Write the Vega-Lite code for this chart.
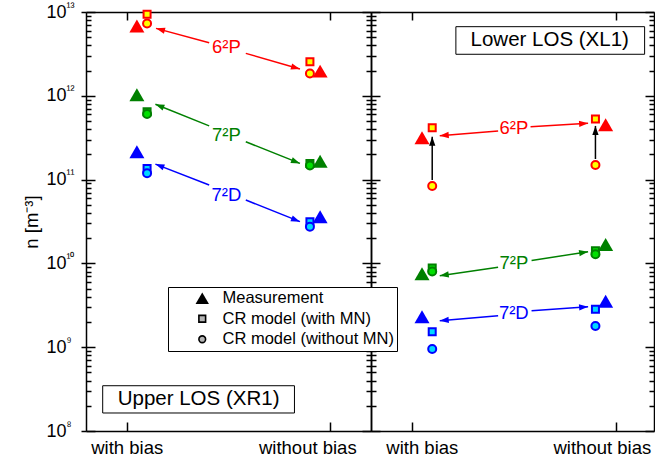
{
  "$schema": "https://vega.github.io/schema/vega-lite/v6.json",
  "background": "white",
  "padding": {"left": 22, "top": 0, "right": 0, "bottom": 0},
  "spacing": 0,
  "bounds": "flush",
  "config": {
    "font": "Liberation Sans",
    "view": {"stroke": null},
    "axis": {
      "grid": false,
      "domainColor": "black",
      "domainWidth": 1.5,
      "tickColor": "black",
      "tickWidth": 1.5,
      "labelColor": "black",
      "titleColor": "black",
      "labelFont": "Liberation Sans",
      "titleFont": "Liberation Sans",
      "titleFontWeight": "normal"
    }
  },
  "datasets": {
    "points": [
      {"los": "Upper", "species": "6²P", "type": "Measurement", "x": 0.05, "n": 6.8e12},
      {"los": "Upper", "species": "6²P", "type": "CR model (with MN)", "x": 0.1, "n": 9.4e12},
      {"los": "Upper", "species": "6²P", "type": "CR model (without MN)", "x": 0.1, "n": 7.3e12},
      {"los": "Upper", "species": "6²P", "type": "Measurement", "x": 0.95, "n": 1.97e12},
      {"los": "Upper", "species": "6²P", "type": "CR model (with MN)", "x": 0.9, "n": 2.55e12},
      {"los": "Upper", "species": "6²P", "type": "CR model (without MN)", "x": 0.9, "n": 1.85e12},
      {"los": "Upper", "species": "7²P", "type": "Measurement", "x": 0.05, "n": 1.03e12},
      {"los": "Upper", "species": "7²P", "type": "CR model (with MN)", "x": 0.1, "n": 6.45e11},
      {"los": "Upper", "species": "7²P", "type": "CR model (without MN)", "x": 0.1, "n": 6.07e11},
      {"los": "Upper", "species": "7²P", "type": "Measurement", "x": 0.95, "n": 1.66e11},
      {"los": "Upper", "species": "7²P", "type": "CR model (with MN)", "x": 0.9, "n": 1.56e11},
      {"los": "Upper", "species": "7²P", "type": "CR model (without MN)", "x": 0.9, "n": 1.47e11},
      {"los": "Upper", "species": "7²D", "type": "Measurement", "x": 0.05, "n": 2.15e11},
      {"los": "Upper", "species": "7²D", "type": "CR model (with MN)", "x": 0.1, "n": 1.36e11},
      {"los": "Upper", "species": "7²D", "type": "CR model (without MN)", "x": 0.1, "n": 1.19e11},
      {"los": "Upper", "species": "7²D", "type": "Measurement", "x": 0.95, "n": 3.6e10},
      {"los": "Upper", "species": "7²D", "type": "CR model (with MN)", "x": 0.9, "n": 3.15e10},
      {"los": "Upper", "species": "7²D", "type": "CR model (without MN)", "x": 0.9, "n": 2.74e10},
      {"los": "Lower", "species": "6²P", "type": "Measurement", "x": 0.05, "n": 3.16e11},
      {"los": "Lower", "species": "6²P", "type": "CR model (with MN)", "x": 0.1, "n": 4.16e11},
      {"los": "Lower", "species": "6²P", "type": "CR model (without MN)", "x": 0.1, "n": 8.4e10},
      {"los": "Lower", "species": "6²P", "type": "Measurement", "x": 0.95, "n": 4.5e11},
      {"los": "Lower", "species": "6²P", "type": "CR model (with MN)", "x": 0.9, "n": 5.28e11},
      {"los": "Lower", "species": "6²P", "type": "CR model (without MN)", "x": 0.9, "n": 1.49e11},
      {"los": "Lower", "species": "7²P", "type": "Measurement", "x": 0.05, "n": 7.5e9},
      {"los": "Lower", "species": "7²P", "type": "CR model (with MN)", "x": 0.1, "n": 8.8e9},
      {"los": "Lower", "species": "7²P", "type": "CR model (without MN)", "x": 0.1, "n": 8.0e9},
      {"los": "Lower", "species": "7²P", "type": "Measurement", "x": 0.95, "n": 1.68e10},
      {"los": "Lower", "species": "7²P", "type": "CR model (with MN)", "x": 0.9, "n": 1.42e10},
      {"los": "Lower", "species": "7²P", "type": "CR model (without MN)", "x": 0.9, "n": 1.29e10},
      {"los": "Lower", "species": "7²D", "type": "Measurement", "x": 0.05, "n": 2.31e9},
      {"los": "Lower", "species": "7²D", "type": "CR model (with MN)", "x": 0.1, "n": 1.53e9},
      {"los": "Lower", "species": "7²D", "type": "CR model (without MN)", "x": 0.1, "n": 9.5e8},
      {"los": "Lower", "species": "7²D", "type": "Measurement", "x": 0.95, "n": 3.54e9},
      {"los": "Lower", "species": "7²D", "type": "CR model (with MN)", "x": 0.9, "n": 2.83e9},
      {"los": "Lower", "species": "7²D", "type": "CR model (without MN)", "x": 0.9, "n": 1.79e9}
    ],
    "arrows": [
      {"los": "Upper", "species": "6²P", "x": 0.405, "n": 4.3e12, "x2": 0.144, "n2": 6.38e12},
      {"los": "Upper", "species": "6²P", "x": 0.585, "n": 3.21e12, "x2": 0.851, "n2": 2.09e12},
      {"los": "Upper", "species": "7²P", "x": 0.405, "n": 4.37e11, "x2": 0.141, "n2": 7.93e11},
      {"los": "Upper", "species": "7²P", "x": 0.585, "n": 2.83e11, "x2": 0.851, "n2": 1.56e11},
      {"los": "Upper", "species": "7²D", "x": 0.405, "n": 8.63e10, "x2": 0.141, "n2": 1.53e11},
      {"los": "Upper", "species": "7²D", "x": 0.585, "n": 5.71e10, "x2": 0.851, "n2": 3.15e10},
      {"los": "Lower", "species": "6²P", "x": 0.423, "n": 3.8e11, "x2": 0.137, "n2": 3.34e11},
      {"los": "Lower", "species": "6²P", "x": 0.582, "n": 4.28e11, "x2": 0.864, "n2": 4.7e11},
      {"los": "Lower", "species": "7²P", "x": 0.423, "n": 8.97e9, "x2": 0.137, "n2": 7.13e9},
      {"los": "Lower", "species": "7²P", "x": 0.587, "n": 1.08e10, "x2": 0.864, "n2": 1.38e10},
      {"los": "Lower", "species": "7²D", "x": 0.423, "n": 2.38e9, "x2": 0.137, "n2": 2.07e9},
      {"los": "Lower", "species": "7²D", "x": 0.587, "n": 2.73e9, "x2": 0.864, "n2": 3.04e9}
    ],
    "shifts": [
      {"los": "Lower", "x": 0.1, "n": 9.9e10, "n2": 3.25e11},
      {"los": "Lower", "x": 0.9, "n": 1.76e11, "n2": 4.37e11}
    ],
    "tags": [
      {"los": "Upper", "species": "6²P", "x": 0.49, "n": 3.82e12},
      {"los": "Upper", "species": "7²P", "x": 0.49, "n": 3.4e11},
      {"los": "Upper", "species": "7²D", "x": 0.49, "n": 6.55e10},
      {"los": "Lower", "species": "6²P", "x": 0.5, "n": 4.13e11},
      {"los": "Lower", "species": "7²P", "x": 0.5, "n": 1.0e10},
      {"los": "Lower", "species": "7²D", "x": 0.5, "n": 2.54e9}
    ],
    "boxes": [
      {"los": "Upper", "title": "Upper LOS (XR1)", "x": -0.118, "x2": 0.824, "n": 1.64e8, "n2": 3.47e8, "tx": 0.353, "tn": 2.41e8},
      {"los": "Lower", "title": "Lower LOS (XL1)", "x": 0.216, "x2": 1.141, "n": 3.13e12, "n2": 6.68e12, "tx": 0.676, "tn": 4.57e12}
    ]
  },
  "hconcat": [
    {
      "width": 285,
      "height": 419,
      "resolve": {"axis": {"x": "independent", "y": "independent"}},
      "layer": [
        {
          "data": {"name": "boxes"},
          "transform": [{"filter": "datum.los == 'Upper'"}],
          "mark": {"type": "rect", "fill": "white", "stroke": "black", "strokeWidth": 1},
          "encoding": {
            "x": {"field": "x", "type": "quantitative", "scale": {"domain": [-0.2, 1.2], "nice": false, "zero": false}, "axis": null},
            "x2": {"field": "x2"},
            "y": {"field": "n", "type": "quantitative", "scale": {"type": "log", "domain": [1e8, 1e13], "nice": false}, "axis": null},
            "y2": {"field": "n2"}
          }
        },
        {
          "data": {"name": "boxes"},
          "transform": [{"filter": "datum.los == 'Upper'"}],
          "mark": {"type": "text", "fontSize": 20.5, "color": "black", "baseline": "middle", "align": "center"},
          "encoding": {
            "x": {"field": "tx", "type": "quantitative", "axis": null},
            "y": {"field": "tn", "type": "quantitative", "axis": null},
            "text": {"field": "title"}
          }
        },
        {
          "data": {"name": "arrows"},
          "transform": [{"filter": "datum.los == 'Upper'"}],
          "mark": {"type": "rule", "strokeWidth": 1.5},
          "encoding": {
            "x": {"field": "x", "type": "quantitative", "axis": null},
            "x2": {"field": "x2"},
            "y": {"field": "n", "type": "quantitative", "axis": {"orient": "right", "values": [1e8,2e8,3e8,4e8,5e8,6e8,7e8,8e8,9e8,1e9,2e9,3e9,4e9,5e9,6e9,7e9,8e9,9e9,1e10,2e10,3e10,4e10,5e10,6e10,7e10,8e10,9e10,1e11,2e11,3e11,4e11,5e11,6e11,7e11,8e11,9e11,1e12,2e12,3e12,4e12,5e12,6e12,7e12,8e12,9e12,1e13], "labels": false, "title": null, "tickSize": {"condition": {"test": "abs(log(datum.value)/LN10 - round(log(datum.value)/LN10)) < 1e-6", "value": -9}, "value": -5}}},
            "y2": {"field": "n2"},
            "color": {"field": "species", "type": "nominal", "scale": {"domain": ["6²P", "7²P", "7²D"], "range": ["#ff0000", "#008000", "#0000ff"]}, "legend": null}
          }
        },
        {
          "data": {"name": "arrows"},
          "transform": [{"filter": "datum.los == 'Upper'"}],
          "mark": {"type": "point", "shape": "M0,0L-2,-0.7L-2,0.7Z", "filled": true, "opacity": 1, "size": 81,
                   "angle": {"expr": "atan2(scale('concat_0_y', datum.n2) - scale('concat_0_y', datum.n), scale('concat_0_x', datum.x2) - scale('concat_0_x', datum.x)) * 180 / PI"}},
          "encoding": {
            "x": {"field": "x2", "type": "quantitative", "axis": null},
            "y": {"field": "n2", "type": "quantitative", "axis": null},
            "color": {"field": "species", "type": "nominal", "legend": null}
          }
        },
        {
          "data": {"name": "tags"},
          "transform": [{"filter": "datum.los == 'Upper'"}],
          "mark": {"type": "text", "fontSize": 18.5, "baseline": "middle", "align": "center"},
          "encoding": {
            "x": {"field": "x", "type": "quantitative", "axis": null},
            "y": {"field": "n", "type": "quantitative", "axis": null},
            "text": {"field": "species"},
            "color": {"field": "species", "type": "nominal", "legend": null}
          }
        },
        {
          "data": {"name": "points"},
          "transform": [{"filter": "datum.los == 'Upper' && datum.type == 'Measurement'"}],
          "mark": {"type": "point", "filled": true, "opacity": 1, "size": 225},
          "encoding": {
            "x": {"field": "x", "type": "quantitative", "axis": {"orient": "bottom", "values": [0, 1], "labelExpr": "datum.value == 0 ? 'with bias' : 'without bias'", "tickSize": -9, "labelPadding": 16, "labelFontSize": 18.5, "labelOffset": {"condition": {"test": "datum.value == 1", "value": -23}, "value": 0}, "title": null}},
            "y": {"field": "n", "type": "quantitative", "axis": {"orient": "left", "values": [1e8, 1e9, 1e10, 1e11, 1e12, 1e13], "labelExpr": "'10'", "tickSize": 5, "labelPadding": 15, "labelFontSize": 18, "title": "n [m⁻³]", "titleFontSize": 18.5, "titlePadding": 4}},
            "shape": {"field": "type", "type": "nominal",
                      "scale": {"domain": ["Measurement", "CR model (with MN)", "CR model (without MN)"], "range": ["triangle-up", "square", "circle"]},
                      "legend": {
                        "title": null, "orient": "none", "legendX": 82, "legendY": 275,
                        "strokeColor": "black", "fillColor": "white", "padding": 3,
                        "labelFontSize": 16.5, "labelFont": "Liberation Sans", "labelColor": "black", "labelLimit": 400,
                        "rowPadding": 3.5, "symbolOffset": 23, "labelOffset": 12,
                        "labelExpr": "datum.label + '    '",
                        "encoding": {"symbols": {
                          "fill": {"value": {"expr": "datum.value === 'Measurement' ? 'black' : '#b4b4b4'"}},
                          "stroke": {"value": "black"},
                          "strokeWidth": {"value": {"expr": "datum.value === 'Measurement' ? 0 : 1.6"}},
                          "size": {"value": {"expr": "datum.value === 'Measurement' ? 180 : 45"}},
                          "opacity": {"value": 1}
                        }}
                      }},
            "color": {"field": "species", "type": "nominal", "legend": null}
          }
        },
        {
          "data": {"name": "points"},
          "transform": [{"filter": "datum.los == 'Upper' && datum.type == 'CR model (with MN)'"}],
          "mark": {"type": "point", "opacity": 1, "size": 49, "strokeWidth": 2},
          "encoding": {
            "x": {"field": "x", "type": "quantitative", "axis": {"orient": "top", "values": [0, 1], "labels": false, "tickSize": -8, "title": null}},
            "y": {"field": "n", "type": "quantitative", "axis": {"orient": "left", "values": [1e8, 1e9, 1e10, 1e11, 1e12, 1e13], "labelExpr": "['⁸','⁹','¹⁰','¹¹','¹²','¹³'][round(log(datum.value)/LN10) - 8]", "ticks": false, "domain": false, "labelAlign": "left", "labelPadding": 20, "labelOffset": -6, "labelFontSize": 12, "title": null}},
            "shape": {"field": "type", "type": "nominal", "legend": null},
            "fill": {"field": "species", "type": "nominal", "scale": {"domain": ["6²P", "7²P", "7²D"], "range": ["#ffff00", "#00e000", "#00d8ff"]}, "legend": null},
            "stroke": {"field": "species", "type": "nominal", "scale": {"domain": ["6²P", "7²P", "7²D"], "range": ["#ff0000", "#008000", "#0000ff"]}, "legend": null}
          }
        },
        {
          "data": {"name": "points"},
          "transform": [{"filter": "datum.los == 'Upper' && datum.type == 'CR model (without MN)'"}],
          "mark": {"type": "point", "opacity": 1, "size": 64, "strokeWidth": 2},
          "encoding": {
            "x": {"field": "x", "type": "quantitative", "axis": null},
            "y": {"field": "n", "type": "quantitative", "axis": {"orient": "left", "values": [1e8,2e8,3e8,4e8,5e8,6e8,7e8,8e8,9e8,1e9,2e9,3e9,4e9,5e9,6e9,7e9,8e9,9e9,1e10,2e10,3e10,4e10,5e10,6e10,7e10,8e10,9e10,1e11,2e11,3e11,4e11,5e11,6e11,7e11,8e11,9e11,1e12,2e12,3e12,4e12,5e12,6e12,7e12,8e12,9e12,1e13], "labels": false, "domain": false, "title": null, "tickSize": {"condition": {"test": "abs(log(datum.value)/LN10 - round(log(datum.value)/LN10)) < 1e-6", "value": -9}, "value": -5}}},
            "shape": {"field": "type", "type": "nominal", "legend": null},
            "fill": {"field": "species", "type": "nominal", "legend": null},
            "stroke": {"field": "species", "type": "nominal", "legend": null}
          }
        }
      ]
    },
    {
      "width": 283,
      "height": 419,
      "resolve": {"axis": {"x": "independent", "y": "independent"}},
      "layer": [
        {
          "data": {"name": "boxes"},
          "transform": [{"filter": "datum.los == 'Lower'"}],
          "mark": {"type": "rect", "fill": "white", "stroke": "black", "strokeWidth": 1},
          "encoding": {
            "x": {"field": "x", "type": "quantitative", "scale": {"domain": [-0.2, 1.187], "nice": false, "zero": false}, "axis": null},
            "x2": {"field": "x2"},
            "y": {"field": "n", "type": "quantitative", "scale": {"type": "log", "domain": [1e8, 1e13], "nice": false}, "axis": null},
            "y2": {"field": "n2"}
          }
        },
        {
          "data": {"name": "boxes"},
          "transform": [{"filter": "datum.los == 'Lower'"}],
          "mark": {"type": "text", "fontSize": 20.5, "color": "black", "baseline": "middle", "align": "center"},
          "encoding": {
            "x": {"field": "tx", "type": "quantitative", "axis": null},
            "y": {"field": "tn", "type": "quantitative", "axis": null},
            "text": {"field": "title"}
          }
        },
        {
          "data": {"name": "arrows"},
          "transform": [{"filter": "datum.los == 'Lower'"}],
          "mark": {"type": "rule", "strokeWidth": 1.5},
          "encoding": {
            "x": {"field": "x", "type": "quantitative", "axis": null},
            "x2": {"field": "x2"},
            "y": {"field": "n", "type": "quantitative", "axis": {"orient": "right", "values": [1e8,2e8,3e8,4e8,5e8,6e8,7e8,8e8,9e8,1e9,2e9,3e9,4e9,5e9,6e9,7e9,8e9,9e9,1e10,2e10,3e10,4e10,5e10,6e10,7e10,8e10,9e10,1e11,2e11,3e11,4e11,5e11,6e11,7e11,8e11,9e11,1e12,2e12,3e12,4e12,5e12,6e12,7e12,8e12,9e12,1e13], "labels": false, "title": null, "tickSize": {"condition": {"test": "abs(log(datum.value)/LN10 - round(log(datum.value)/LN10)) < 1e-6", "value": -9}, "value": -5}}},
            "y2": {"field": "n2"},
            "color": {"field": "species", "type": "nominal", "legend": null}
          }
        },
        {
          "data": {"name": "arrows"},
          "transform": [{"filter": "datum.los == 'Lower'"}],
          "mark": {"type": "point", "shape": "M0,0L-2,-0.7L-2,0.7Z", "filled": true, "opacity": 1, "size": 81,
                   "angle": {"expr": "atan2(scale('concat_1_y', datum.n2) - scale('concat_1_y', datum.n), scale('concat_1_x', datum.x2) - scale('concat_1_x', datum.x)) * 180 / PI"}},
          "encoding": {
            "x": {"field": "x2", "type": "quantitative", "axis": null},
            "y": {"field": "n2", "type": "quantitative", "axis": null},
            "color": {"field": "species", "type": "nominal", "legend": null}
          }
        },
        {
          "data": {"name": "shifts"},
          "mark": {"type": "rule", "strokeWidth": 1.5, "color": "black"},
          "encoding": {
            "x": {"field": "x", "type": "quantitative", "axis": null},
            "y": {"field": "n", "type": "quantitative", "axis": null},
            "y2": {"field": "n2"}
          }
        },
        {
          "data": {"name": "shifts"},
          "mark": {"type": "point", "shape": "M0,0L-2,-0.7L-2,0.7Z", "filled": true, "opacity": 1, "size": 81, "color": "black", "angle": 270},
          "encoding": {
            "x": {"field": "x", "type": "quantitative", "axis": null},
            "y": {"field": "n2", "type": "quantitative", "axis": null}
          }
        },
        {
          "data": {"name": "tags"},
          "transform": [{"filter": "datum.los == 'Lower'"}],
          "mark": {"type": "text", "fontSize": 18.5, "baseline": "middle", "align": "center"},
          "encoding": {
            "x": {"field": "x", "type": "quantitative", "axis": null},
            "y": {"field": "n", "type": "quantitative", "axis": null},
            "text": {"field": "species"},
            "color": {"field": "species", "type": "nominal", "legend": null}
          }
        },
        {
          "data": {"name": "points"},
          "transform": [{"filter": "datum.los == 'Lower' && datum.type == 'Measurement'"}],
          "mark": {"type": "point", "filled": true, "opacity": 1, "size": 225},
          "encoding": {
            "x": {"field": "x", "type": "quantitative", "axis": {"orient": "bottom", "values": [0, 1], "labelExpr": "datum.value == 0 ? 'with bias' : 'without bias'", "tickSize": -9, "labelPadding": 16, "labelFontSize": 18.5, "labelOffset": {"condition": {"test": "datum.value == 1", "value": -14}, "value": 10}, "title": null}},
            "y": {"field": "n", "type": "quantitative", "axis": {"orient": "left", "values": [1e8,2e8,3e8,4e8,5e8,6e8,7e8,8e8,9e8,1e9,2e9,3e9,4e9,5e9,6e9,7e9,8e9,9e9,1e10,2e10,3e10,4e10,5e10,6e10,7e10,8e10,9e10,1e11,2e11,3e11,4e11,5e11,6e11,7e11,8e11,9e11,1e12,2e12,3e12,4e12,5e12,6e12,7e12,8e12,9e12,1e13], "labels": false, "title": null, "tickSize": {"condition": {"test": "abs(log(datum.value)/LN10 - round(log(datum.value)/LN10)) < 1e-6", "value": -9}, "value": -5}}},
            "shape": {"field": "type", "type": "nominal", "legend": null},
            "color": {"field": "species", "type": "nominal", "legend": null}
          }
        },
        {
          "data": {"name": "points"},
          "transform": [{"filter": "datum.los == 'Lower' && datum.type == 'CR model (with MN)'"}],
          "mark": {"type": "point", "opacity": 1, "size": 49, "strokeWidth": 2},
          "encoding": {
            "x": {"field": "x", "type": "quantitative", "axis": {"orient": "top", "values": [0, 1], "labels": false, "tickSize": -8, "title": null}},
            "y": {"field": "n", "type": "quantitative", "axis": null},
            "shape": {"field": "type", "type": "nominal", "legend": null},
            "fill": {"field": "species", "type": "nominal", "legend": null},
            "stroke": {"field": "species", "type": "nominal", "legend": null}
          }
        },
        {
          "data": {"name": "points"},
          "transform": [{"filter": "datum.los == 'Lower' && datum.type == 'CR model (without MN)'"}],
          "mark": {"type": "point", "opacity": 1, "size": 64, "strokeWidth": 2},
          "encoding": {
            "x": {"field": "x", "type": "quantitative", "axis": null},
            "y": {"field": "n", "type": "quantitative", "axis": null},
            "shape": {"field": "type", "type": "nominal", "legend": null},
            "fill": {"field": "species", "type": "nominal", "legend": null},
            "stroke": {"field": "species", "type": "nominal", "legend": null}
          }
        }
      ]
    }
  ]
}
